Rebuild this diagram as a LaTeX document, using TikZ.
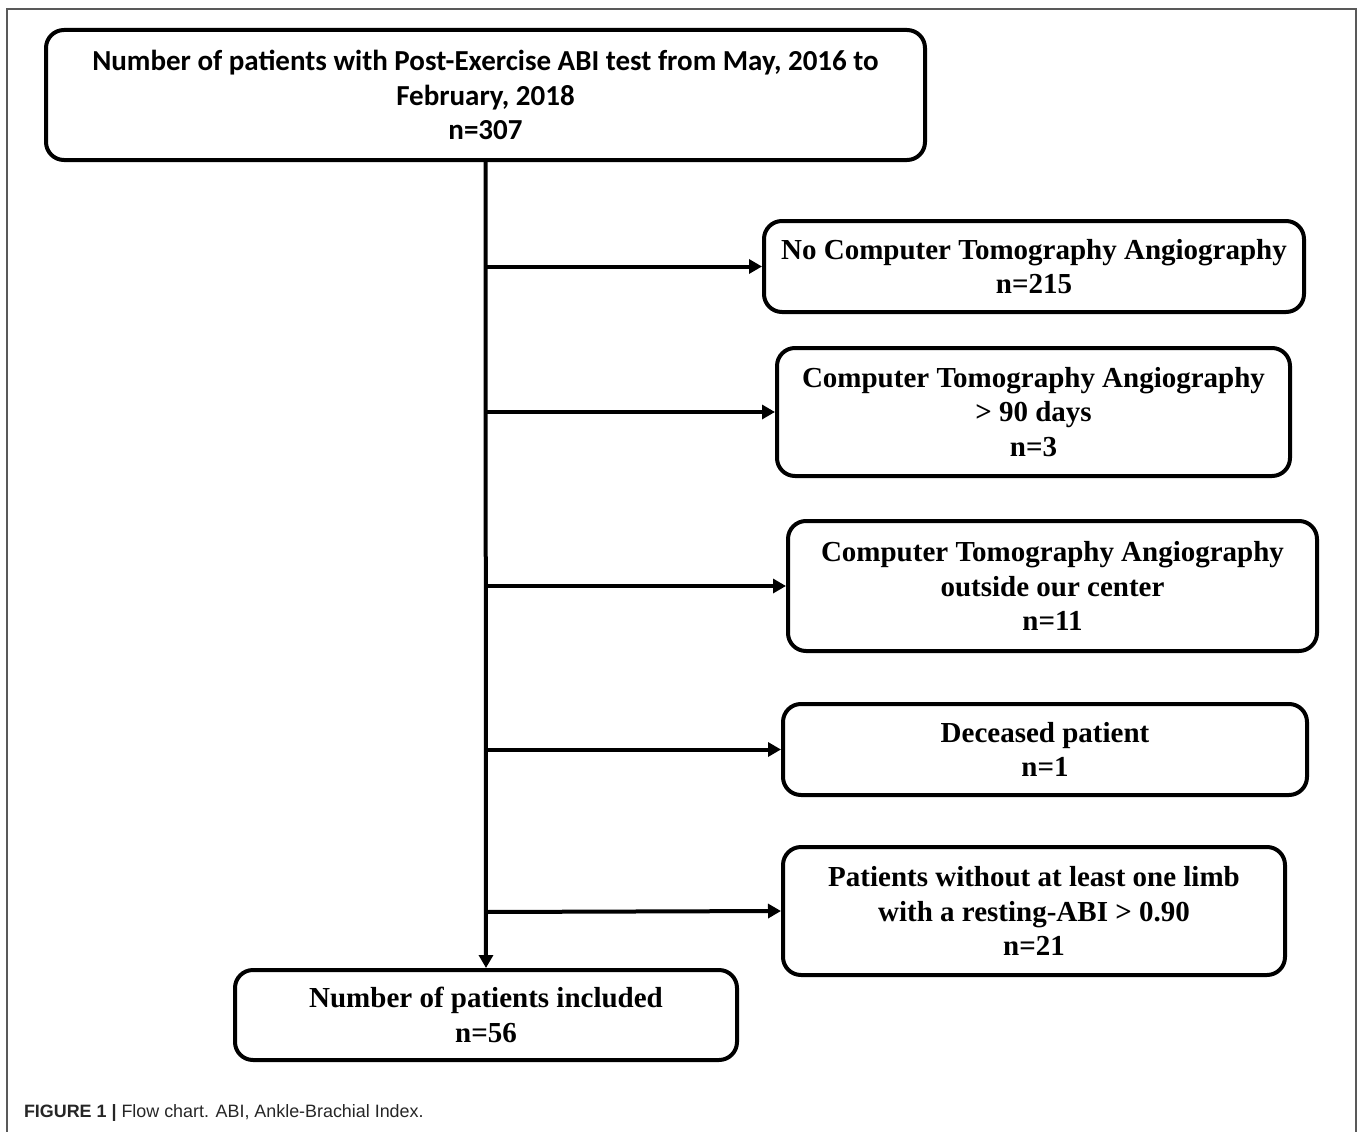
\documentclass[tikz,border=0pt]{standalone}
\usepackage{fontspec}
\setmainfont{Liberation Serif}
\newfontfamily\calfont{Carlito}
\newfontfamily\capfont{Liberation Sans}
\usetikzlibrary{arrows.meta}
\begin{document}
\begin{tikzpicture}[x=1pt, y=-1pt, line width=4pt,
  flow box/.style={rectangle, draw, rounded corners=18pt, align=center, inner sep=0pt},
  side box/.style={flow box, font=\fontsize{29}{34.5}\selectfont\bfseries},
  flow arrow/.style={-{Triangle[length=13pt,width=14pt]}, line width=4pt}]
\useasboundingbox (0,0) rectangle (1358,1132);
\draw[line width=2pt, draw=black!65] (7,1140) -- (7,9) -- (1356,9) -- (1356,1140);
%top
\node[flow box, minimum width=879pt, minimum height=130pt,
  font=\calfont\fontsize{29}{34.5}\selectfont\bfseries] (all) at (485.5,95)
  {Number of patients with Post-Exercise ABI test from May, 2016 to\\February, 2018\\n=307};
%excluded
\node[side box, minimum width=540pt, minimum height=91pt] (nocta) at (1034,266.5)
  {No Computer Tomography Angiography\\n=215};
\node[side box, minimum width=513pt, minimum height=128pt] (late) at (1033.5,412)
  {Computer Tomography Angiography\\> 90 days\\n=3};
\node[side box, minimum width=529pt, minimum height=130pt] (outside) at (1052.5,586)
  {Computer Tomography Angiography\\outside our center\\n=11};
\node[side box, minimum width=524pt, minimum height=91pt] (dead) at (1045,749.5)
  {Deceased patient\\n=1};
\node[side box, minimum width=502pt, minimum height=128pt] (lowabi) at (1034,911)
  {Patients without at least one limb\\with a resting-ABI > 0.90\\n=21};
%included
\node[side box, minimum width=502pt, minimum height=90pt] (incl) at (486,1015)
  {Number of patients included\\n=56};
%caption
\node[anchor=west, inner sep=0pt, text=black!85, font=\capfont\fontsize{17.9}{20}\selectfont] (cap) at (22,1113)
  {\textbf{FIGURE 1 |} Flow chart. ABI, Ankle-Brachial Index.};
%trunk
\coordinate (j1) at (486,266.5);
\coordinate (j2) at (486,412);
\coordinate (j3) at (486,586);
\coordinate (j4) at (486,749.5);
\coordinate (j5) at (486,912);
\draw[flow arrow] (all.south) -- (incl.north);
\draw[flow arrow] (j1) -- (nocta.west);
\draw[flow arrow] (j2) -- (late.west);
\draw[flow arrow] (j3) -- (outside.west);
\draw[flow arrow] (j4) -- (dead.west);
\draw[flow arrow] (j5) -- (lowabi.west);
\end{tikzpicture}
\end{document}
